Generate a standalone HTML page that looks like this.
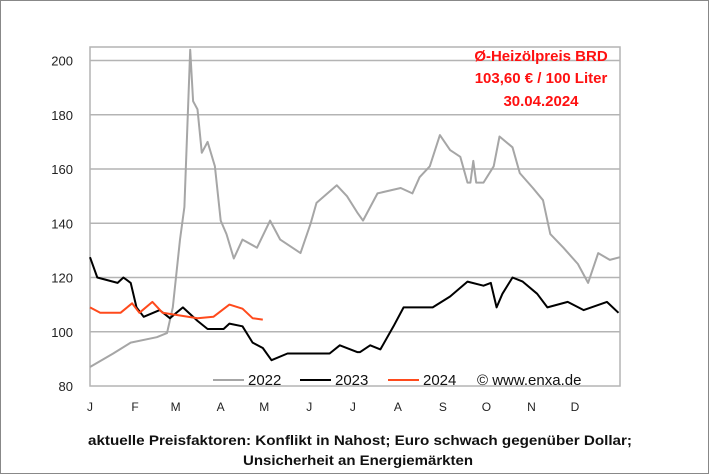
<!DOCTYPE html>
<html><head><meta charset="utf-8"><style>
body{margin:0;background:#fff}
#wrap{position:relative;width:710px;height:475px;overflow:hidden}
svg{position:absolute;left:0;top:0}
text{font-family:"Liberation Sans",sans-serif}
</style></head><body>
<div id="wrap">
<svg id="c" width="710" height="475">
<rect x="0.5" y="0.5" width="708" height="473" fill="#fff" stroke="#888"/>
</svg>
</div>
<script>
const yTicks=[80,100,120,140,160,180,200];
const monthLabels=["J","F","M","A","M","J","J","A","S","O","N","D"];
const monthStarts=[0,31,59,90,120,151,181,212,243,273,304,334];
const days2022=[0,16,28,46,53,57,62,65,69,71,74,77,81,86,90,94,99,105,115,124,131,145,152,156,170,177,184,188,198,214,222,227,234,241,248,255,260,262,264,266,271,278,282,291,296,305,312,317,326,336,343,350,358,365];
const vals2022=[87,92,96,98,99.5,109,134,146,204,185,182,166,170,161,141,136,127,134,131,141,134,129,140,147.5,154,150,144,141,151,153,151,157,161,172.5,167,164.5,155,155,163,155,155,161,172,168,158.5,153,148.5,136,131,125,118,129,126.5,127.5];
const days2023=[0,5,19,23,28,32,37,48,55,64,74,81,92,96,105,112,119,125,136,154,165,172,184,186,193,200,209,216,225,236,248,260,271,276,280,284,291,298,308,315,329,340,356,364];
const vals2023=[127.5,120,118,120,118,109,105.5,108,105,109,104,101,101,103,102,96,94,89.5,92,92,92,95,92.5,92.5,95,93.5,102,109,109,109,113,118.5,117,118,109,114,120,118.5,114,109,111,108,111,107];
const days2024=[0,7,21,29,34,43,50,62,74,85,96,105,112,119];
const vals2024=[109,107,107,110.5,107,111,107,106,105,105.5,110,108.5,105,104.5];

const L=90,R=620,T=47,B=386,YMIN=80,YMAX=205;
const X=d=>L+d*(R-L)/365;
const Y=v=>B-(v-YMIN)*(B-T)/(YMAX-YMIN);
const svg=document.getElementById('c');
const NS='http://www.w3.org/2000/svg';
function mk(tag,attrs,txt){const e=document.createElementNS(NS,tag);for(const k in attrs)e.setAttribute(k,attrs[k]);if(txt!==undefined)e.textContent=txt;svg.appendChild(e);return e;}

yTicks.forEach(t=>{
  if(t>YMIN){const g=mk('line',{x1:L,x2:R,y1:Y(t),y2:Y(t),stroke:'#b4b4b4','stroke-width':1.5});
  
  }
  const lb=mk('text',{x:73,y:Y(t)+5,'text-anchor':'end','font-size':13,fill:'#222'},String(t));
  
  
});
const fr=mk('rect',{x:L,y:T,width:R-L,height:B-T,fill:'none',stroke:'#b4b4b4','stroke-width':1.5});


monthLabels.forEach((m,i)=>{
  const t=mk('text',{x:X(monthStarts[i]),y:411,'text-anchor':'middle','font-size':12,fill:'#222'},m);
  
  
});
function series(days,vals,color,name){
  const p=mk('polyline',{points:days.map((d,i)=>X(d).toFixed(1)+','+Y(vals[i]).toFixed(1)).join(' '),fill:'none',stroke:color,'stroke-width':2,'stroke-linejoin':'round'});
  
  
}
series(days2022,vals2022,'#a6a6a6','series-2022');
series(days2023,vals2023,'#000','series-2023');
series(days2024,vals2024,'#ff4a1c','series-2024');

[[213,'#a6a6a6','2022'],[300,'#000','2023'],[388,'#ff4a1c','2024']].forEach(([x,c,l])=>{
  const ln=mk('line',{x1:x,x2:x+31,y1:380,y2:380,stroke:c,'stroke-width':2});
  
  
  const t=mk('text',{x:x+35,y:385,'font-size':15,fill:'#111'},l);
  
  
});
const cp=mk('text',{x:477,y:385,'font-size':15,fill:'#111'},'© www.enxa.de');


[['Ø-Heizölpreis BRD',61,'title-line-1'],['103,60 € / 100 Liter',83,'title-line-2'],['30.04.2024',106,'title-line-3']].forEach(([s,y,n])=>{
  const t=mk('text',{x:541,y:y,'text-anchor':'middle','font-size':15,'font-weight':'bold',fill:'#ff1010'},s);
  
  
});
[['aktuelle Preisfaktoren: Konflikt in Nahost; Euro schwach gegenüber Dollar;',88,445,544,'footer-line-1'],['Unsicherheit an Energiemärkten',243,465,230,'footer-line-2']].forEach(([s,x,y,w,n])=>{
  const t=mk('text',{x:x,y:y,textLength:w,lengthAdjust:'spacingAndGlyphs','font-size':14,'font-weight':'bold',fill:'#111'},s);
  
  
});
</script>
</body></html>
